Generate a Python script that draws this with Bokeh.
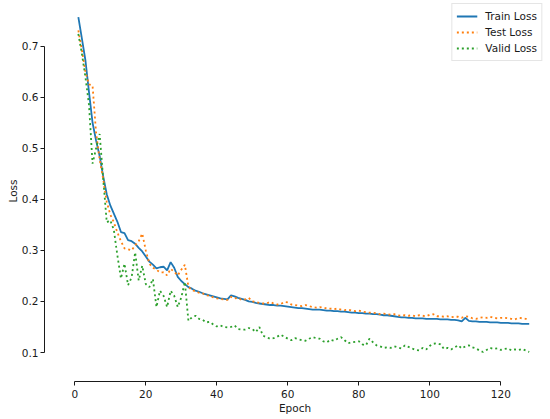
from bokeh.plotting import figure
from bokeh.models import FixedTicker, Range1d, Legend, LegendItem
from bokeh.embed import file_html
from bokeh.resources import INLINE

epochs = list(range(1, 129))

train_loss = [
    0.757, 0.715, 0.672, 0.610, 0.550, 0.515, 0.485, 0.445, 0.410, 0.388,
    0.372, 0.356, 0.336, 0.334, 0.320, 0.318, 0.313, 0.305, 0.298, 0.288,
    0.278, 0.272, 0.265, 0.267, 0.268, 0.261, 0.277, 0.266, 0.248, 0.240,
    0.234, 0.228, 0.225, 0.221, 0.219, 0.216, 0.214, 0.212, 0.210, 0.208,
    0.206, 0.205, 0.204, 0.212, 0.210, 0.207, 0.205, 0.203, 0.200, 0.199,
    0.197, 0.196, 0.195, 0.194, 0.193, 0.193, 0.192, 0.192, 0.191, 0.190,
    0.189, 0.188, 0.187, 0.187, 0.186, 0.185, 0.184, 0.184, 0.184, 0.183,
    0.182, 0.182, 0.181, 0.181, 0.180, 0.180, 0.179, 0.178, 0.178, 0.177,
    0.177, 0.176, 0.176, 0.175, 0.175, 0.174, 0.173, 0.173, 0.172, 0.171,
    0.170, 0.169, 0.169, 0.168, 0.168, 0.167, 0.167, 0.167, 0.166, 0.166,
    0.166, 0.166, 0.165, 0.165, 0.165, 0.164, 0.164, 0.163, 0.161, 0.168,
    0.162, 0.161, 0.161, 0.160, 0.160, 0.160, 0.159, 0.159, 0.159, 0.158,
    0.158, 0.158, 0.157, 0.157, 0.157, 0.156, 0.156, 0.156,
]

test_loss = [
    0.731, 0.692, 0.650, 0.625, 0.623, 0.530, 0.478, 0.440, 0.395, 0.370,
    0.355, 0.335, 0.318, 0.304, 0.302, 0.300, 0.310, 0.318, 0.333, 0.300,
    0.274, 0.266, 0.262, 0.257, 0.257, 0.251, 0.264, 0.258, 0.251, 0.262,
    0.272, 0.229, 0.222, 0.220, 0.217, 0.216, 0.212, 0.211, 0.208, 0.206,
    0.205, 0.204, 0.203, 0.209, 0.206, 0.207, 0.203, 0.204, 0.207, 0.200,
    0.199, 0.197, 0.196, 0.196, 0.199, 0.196, 0.194, 0.195, 0.199, 0.198,
    0.194, 0.193, 0.192, 0.191, 0.193, 0.191, 0.189, 0.188, 0.189, 0.188,
    0.186, 0.186, 0.185, 0.186, 0.184, 0.183, 0.184, 0.182, 0.181, 0.182,
    0.180, 0.179, 0.178, 0.178, 0.177, 0.175, 0.176, 0.175, 0.174, 0.175,
    0.173, 0.172, 0.173, 0.172, 0.173, 0.171, 0.173, 0.172, 0.171, 0.174,
    0.175, 0.171, 0.171, 0.170, 0.171, 0.169, 0.170, 0.170, 0.168, 0.171,
    0.170, 0.167, 0.166, 0.168, 0.169, 0.168, 0.170, 0.168, 0.167, 0.168,
    0.168, 0.167, 0.166, 0.165, 0.168, 0.167, 0.166, 0.165,
]

valid_loss = [
    0.724, 0.685, 0.639, 0.585, 0.470, 0.500, 0.528, 0.440, 0.355, 0.359,
    0.340, 0.290, 0.245, 0.274, 0.232, 0.247, 0.296, 0.241, 0.270, 0.234,
    0.228, 0.244, 0.189, 0.221, 0.211, 0.189, 0.221, 0.211, 0.189, 0.208,
    0.238, 0.162, 0.169, 0.172, 0.166, 0.164, 0.159, 0.160, 0.155, 0.151,
    0.153, 0.150, 0.149, 0.150, 0.153, 0.146, 0.145, 0.145, 0.148, 0.146,
    0.140, 0.150, 0.133, 0.130, 0.127, 0.128, 0.131, 0.135, 0.131, 0.127,
    0.124, 0.128, 0.126, 0.124, 0.123, 0.127, 0.130, 0.128, 0.127, 0.122,
    0.120, 0.125, 0.123, 0.127, 0.130, 0.124, 0.118, 0.120, 0.121, 0.122,
    0.116, 0.114, 0.127, 0.120, 0.114, 0.112, 0.109, 0.110, 0.109, 0.112,
    0.110, 0.108, 0.114, 0.111, 0.108, 0.105, 0.104, 0.109, 0.106, 0.113,
    0.117, 0.118, 0.116, 0.107, 0.109, 0.106, 0.110, 0.114, 0.108, 0.112,
    0.114, 0.110, 0.108, 0.104, 0.101, 0.105, 0.109, 0.107, 0.108, 0.105,
    0.107, 0.108, 0.104, 0.106, 0.105, 0.107, 0.104, 0.101,
]

x_ticks = [0, 20, 40, 60, 80, 100, 120]
y_ticks = [0.1, 0.2, 0.3, 0.4, 0.5, 0.6, 0.7]
series_names = ["Train Loss", "Test Loss", "Valid Loss"]

FONT = "DejaVu Sans"
TXT = "#1a1a1a"

p = figure(width=550, height=419, output_backend="svg", toolbar_location=None,
           x_range=Range1d(-8.535, 132.59), y_range=Range1d(0.0432, 0.7895),
           min_border_left=44, min_border_right=5, min_border_top=0,
           min_border_bottom=38)

p.outline_line_color = None
p.xgrid.visible = False
p.ygrid.visible = False
p.background_fill_color = "white"
p.border_fill_color = "white"

r1 = p.line(epochs, train_loss, line_color="#1f77b4", line_width=1.8)
r2 = p.line(epochs, test_loss, line_color="#ff7f0e", line_width=1.8, line_dash="2 3")
r3 = p.line(epochs, valid_loss, line_color="#2ca02c", line_width=1.8, line_dash="2 3")

for ax, ticks, bounds in ((p.xaxis, x_ticks, (0, 120)), (p.yaxis, y_ticks, (0.1, 0.7))):
    ax.ticker = FixedTicker(ticks=ticks)
    ax.bounds = bounds
    ax.axis_line_color = TXT
    ax.axis_line_width = 1
    ax.major_tick_line_color = TXT
    ax.major_tick_in = 0
    ax.major_tick_out = 4
    ax.minor_tick_line_color = None
    ax.major_label_text_font = FONT
    ax.major_label_text_font_size = "10.5px"
    ax.major_label_text_color = TXT
    ax.axis_label_text_font = FONT
    ax.axis_label_text_font_size = "10.5px"
    ax.axis_label_text_font_style = "normal"
    ax.axis_label_text_color = TXT

p.yaxis.major_label_standoff = 2
p.yaxis.axis_label_standoff = 0
p.xaxis.major_label_standoff = 4
p.xaxis.axis_label_standoff = 1

p.xaxis.axis_label = "Epoch"
p.yaxis.axis_label = "Loss"

legend = Legend(items=[
    LegendItem(label=series_names[0], renderers=[r1]),
    LegendItem(label=series_names[1], renderers=[r2]),
    LegendItem(label=series_names[2], renderers=[r3]),
], location="top_right")
legend.margin = 3
legend.padding = 4
legend.spacing = 0
legend.label_height = 16
legend.glyph_height = 16
legend.glyph_width = 21
legend.label_standoff = 8
legend.label_text_font = FONT
legend.label_text_font_size = "10.5px"
legend.label_text_color = TXT
legend.border_line_color = "#cccccc"
legend.border_line_width = 1
legend.background_fill_color = "white"
legend.background_fill_alpha = 0.8
p.add_layout(legend, "center")

open("out.html", "w").write(file_html(p, INLINE))
